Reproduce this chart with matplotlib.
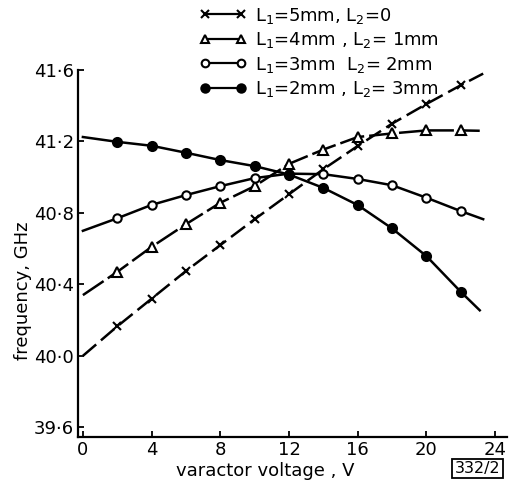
import numpy as np
import matplotlib.pyplot as plt

plt.rcParams['font.family'] = ['DejaVu Sans']
plt.rcParams['mathtext.default'] = 'regular'

# marker positions (varactor voltage, V)
v_marks = [2, 4, 6, 8, 10, 12, 14, 16, 18, 20, 22]

# line ends
v_start = 0
v_end_5mm, v_end_4mm, v_end_3mm, v_end_2mm = 23.3, 23.1, 23.3, 23.1

# frequency, GHz
f_5mm = [40.165, 40.32, 40.475, 40.62, 40.765, 40.905, 41.045, 41.175, 41.30, 41.41, 41.515]
f_4mm = [40.47, 40.61, 40.737, 40.857, 40.95, 41.075, 41.155, 41.225, 41.245, 41.262, 41.262]
f_3mm = [40.77, 40.845, 40.90, 40.95, 40.995, 41.02, 41.017, 40.99, 40.955, 40.885, 40.81]
f_2mm = [41.198, 41.176, 41.137, 41.096, 41.062, 41.015, 40.94, 40.844, 40.713, 40.558, 40.358]

f0_5mm, f0_4mm, f0_3mm, f0_2mm = 40.0, 40.34, 40.70, 41.225
fend_5mm, fend_4mm, fend_3mm, fend_2mm = 41.58, 41.26, 40.765, 40.255

labels = ['$L_1$=5mm, $L_2$=0', '$L_1$=4mm , $L_2$= 1mm',
          '$L_1$=3mm  $L_2$= 2mm', '$L_1$=2mm , $L_2$= 3mm']

yticks = [39.6, 40.0, 40.4, 40.8, 41.2, 41.6]
xticks = [0, 4, 8, 12, 16, 20, 24]

fig = plt.figure(figsize=(5.16, 4.83), dpi=100)
ax = fig.add_axes([0.151, 0.095, 0.832, 0.76])


def full(f0, f, v_end, f_end):
    xs = [v_start] + v_marks + [v_end]
    ys = [f0] + f + [f_end]
    return xs, ys


series = [
    (full(f0_5mm, f_5mm, v_end_5mm, fend_5mm), 'x', 'black', (0, (7, 2.5)), 6),
    (full(f0_4mm, f_4mm, v_end_4mm, fend_4mm), '^', 'white', (0, (10, 2)), 6.5),
    (full(f0_3mm, f_3mm, v_end_3mm, fend_3mm), 'o', 'white', '-', 6),
    (full(f0_2mm, f_2mm, v_end_2mm, fend_2mm), 'o', 'black', '-', 6.5),
]

handles = []
for (xs, ys), mk, fc, ls, ms in series:
    ax.plot(xs, ys, color='black', lw=1.8, ls=ls)
    ax.plot(v_marks, ys[1:-1], ls='none', marker=mk, ms=ms, mfc=fc,
            mec='black', mew=1.5)
    h, = plt.plot([], [], color='black', lw=1.6, marker=mk, ms=ms - 0.5,
                  mfc=fc, mec='black', mew=1.5)
    handles.append(h)

fig.legend(handles, labels, loc='upper left', bbox_to_anchor=(0.355, 1.022),
           frameon=False, numpoints=2, handlelength=2.6, handletextpad=0.5,
           labelspacing=0.25, fontsize=13)

ax.set_xlim(-0.29, 24.7)
ax.set_ylim(39.545, 41.6)
ax.set_xticks(xticks)
ax.set_xticklabels([str(t) for t in xticks], fontsize=13)
ax.set_yticks(yticks)
ax.set_yticklabels([f'{t:.1f}'.replace('.', '\u00b7') for t in yticks], fontsize=13)
ax.tick_params(direction='in', length=4, width=1.3, pad=3)
for s in ['top', 'right']:
    ax.spines[s].set_visible(False)
for s in ['left', 'bottom']:
    ax.spines[s].set_linewidth(1.6)

ax.set_xlabel('varactor voltage , V', fontsize=13, labelpad=2)
ax.set_ylabel('frequency, GHz', fontsize=13, labelpad=1)
ax.xaxis.label.set_x(0.436)
ax.yaxis.label.set_y(0.40)

fig.text(0.925, 0.03, '332/2', fontsize=11.5, ha='center', va='center',
         bbox=dict(boxstyle='square,pad=0.15', fc='white', ec='black', lw=1.3))

fig.savefig('out.png', dpi=100)
